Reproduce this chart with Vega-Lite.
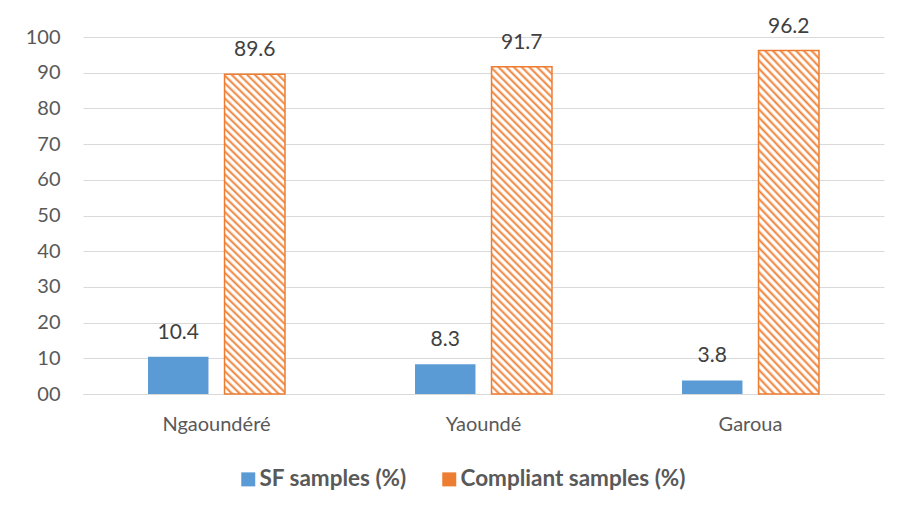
{
  "$schema": "https://vega.github.io/schema/vega-lite/v6.json",
  "width": 801,
  "height": 357,
  "autosize": {"type": "none"},
  "padding": {"left": 83, "top": 37, "right": 21, "bottom": 120},
  "background": "white",
  "config": {"view": {"stroke": null}, "font": "Lato"},
  "data": {
    "values": [
      {"city": "Ngaoundéré", "series": "SF samples (%)", "value": 10.4},
      {"city": "Ngaoundéré", "series": "Compliant samples (%)", "value": 89.6},
      {"city": "Yaoundé", "series": "SF samples (%)", "value": 8.3},
      {"city": "Yaoundé", "series": "Compliant samples (%)", "value": 91.7},
      {"city": "Garoua", "series": "SF samples (%)", "value": 3.8},
      {"city": "Garoua", "series": "Compliant samples (%)", "value": 96.2}
    ]
  },
  "encoding": {
    "x": {
      "field": "city",
      "type": "nominal",
      "sort": ["Ngaoundéré", "Yaoundé", "Garoua"],
      "scale": {"paddingInner": 0.487, "paddingOuter": 0.2435},
      "axis": {
        "title": null,
        "labelAngle": 0,
        "labelFontSize": 20,
        "labelColor": "#595959",
        "labelPadding": 20,
        "ticks": false,
        "domainColor": "#D9D9D9",
        "grid": false
      }
    },
    "xOffset": {
      "field": "series",
      "type": "nominal",
      "sort": ["SF samples (%)", "Compliant samples (%)"],
      "scale": {"paddingInner": 0.21}
    },
    "y": {
      "field": "value",
      "type": "quantitative",
      "scale": {"domain": [0, 100]},
      "axis": {
        "title": null,
        "values": [0, 10, 20, 30, 40, 50, 60, 70, 80, 90, 100],
        "format": "02d",
        "labelFontSize": 20,
        "labelColor": "#595959",
        "labelPadding": 23,
        "ticks": false,
        "domain": false,
        "gridColor": "#D9D9D9"
      }
    }
  },
  "layer": [
    {
      "mark": {"type": "bar", "strokeWidth": 1.5},
      "encoding": {
        "color": {
          "field": "series",
          "type": "nominal",
          "scale": {"domain": ["SF samples (%)", "Compliant samples (%)"], "range": ["#5B9BD5", "#ED7D31"]},
          "condition": {
            "test": "datum.series === 'Compliant samples (%)'",
            "value": {
              "gradient": "linear",
              "x1": 0, "y1": 1, "x2": 0.2122, "y2": -0.1459,
              "stops": [
                {"offset":0,"color":"#ED7D31"},{"offset":0.008,"color":"#fff"},{"offset":0.014,"color":"#fff"},
                {"offset":0.02,"color":"#ED7D31"},{"offset":0.028,"color":"#fff"},{"offset":0.034,"color":"#fff"},
                {"offset":0.04,"color":"#ED7D31"},{"offset":0.048,"color":"#fff"},{"offset":0.054,"color":"#fff"},
                {"offset":0.06,"color":"#ED7D31"},{"offset":0.068,"color":"#fff"},{"offset":0.074,"color":"#fff"},
                {"offset":0.08,"color":"#ED7D31"},{"offset":0.088,"color":"#fff"},{"offset":0.094,"color":"#fff"},
                {"offset":0.1,"color":"#ED7D31"},{"offset":0.108,"color":"#fff"},{"offset":0.114,"color":"#fff"},
                {"offset":0.12,"color":"#ED7D31"},{"offset":0.128,"color":"#fff"},{"offset":0.134,"color":"#fff"},
                {"offset":0.14,"color":"#ED7D31"},{"offset":0.148,"color":"#fff"},{"offset":0.154,"color":"#fff"},
                {"offset":0.16,"color":"#ED7D31"},{"offset":0.168,"color":"#fff"},{"offset":0.174,"color":"#fff"},
                {"offset":0.18,"color":"#ED7D31"},{"offset":0.188,"color":"#fff"},{"offset":0.194,"color":"#fff"},
                {"offset":0.2,"color":"#ED7D31"},{"offset":0.208,"color":"#fff"},{"offset":0.214,"color":"#fff"},
                {"offset":0.22,"color":"#ED7D31"},{"offset":0.228,"color":"#fff"},{"offset":0.234,"color":"#fff"},
                {"offset":0.24,"color":"#ED7D31"},{"offset":0.248,"color":"#fff"},{"offset":0.254,"color":"#fff"},
                {"offset":0.26,"color":"#ED7D31"},{"offset":0.268,"color":"#fff"},{"offset":0.274,"color":"#fff"},
                {"offset":0.28,"color":"#ED7D31"},{"offset":0.288,"color":"#fff"},{"offset":0.294,"color":"#fff"},
                {"offset":0.3,"color":"#ED7D31"},{"offset":0.308,"color":"#fff"},{"offset":0.314,"color":"#fff"},
                {"offset":0.32,"color":"#ED7D31"},{"offset":0.328,"color":"#fff"},{"offset":0.334,"color":"#fff"},
                {"offset":0.34,"color":"#ED7D31"},{"offset":0.348,"color":"#fff"},{"offset":0.354,"color":"#fff"},
                {"offset":0.36,"color":"#ED7D31"},{"offset":0.368,"color":"#fff"},{"offset":0.374,"color":"#fff"},
                {"offset":0.38,"color":"#ED7D31"},{"offset":0.388,"color":"#fff"},{"offset":0.394,"color":"#fff"},
                {"offset":0.4,"color":"#ED7D31"},{"offset":0.408,"color":"#fff"},{"offset":0.414,"color":"#fff"},
                {"offset":0.42,"color":"#ED7D31"},{"offset":0.428,"color":"#fff"},{"offset":0.434,"color":"#fff"},
                {"offset":0.44,"color":"#ED7D31"},{"offset":0.448,"color":"#fff"},{"offset":0.454,"color":"#fff"},
                {"offset":0.46,"color":"#ED7D31"},{"offset":0.468,"color":"#fff"},{"offset":0.474,"color":"#fff"},
                {"offset":0.48,"color":"#ED7D31"},{"offset":0.488,"color":"#fff"},{"offset":0.494,"color":"#fff"},
                {"offset":0.5,"color":"#ED7D31"},{"offset":0.508,"color":"#fff"},{"offset":0.514,"color":"#fff"},
                {"offset":0.52,"color":"#ED7D31"},{"offset":0.528,"color":"#fff"},{"offset":0.534,"color":"#fff"},
                {"offset":0.54,"color":"#ED7D31"},{"offset":0.548,"color":"#fff"},{"offset":0.554,"color":"#fff"},
                {"offset":0.56,"color":"#ED7D31"},{"offset":0.568,"color":"#fff"},{"offset":0.574,"color":"#fff"},
                {"offset":0.58,"color":"#ED7D31"},{"offset":0.588,"color":"#fff"},{"offset":0.594,"color":"#fff"},
                {"offset":0.6,"color":"#ED7D31"},{"offset":0.608,"color":"#fff"},{"offset":0.614,"color":"#fff"},
                {"offset":0.62,"color":"#ED7D31"},{"offset":0.628,"color":"#fff"},{"offset":0.634,"color":"#fff"},
                {"offset":0.64,"color":"#ED7D31"},{"offset":0.648,"color":"#fff"},{"offset":0.654,"color":"#fff"},
                {"offset":0.66,"color":"#ED7D31"},{"offset":0.668,"color":"#fff"},{"offset":0.674,"color":"#fff"},
                {"offset":0.68,"color":"#ED7D31"},{"offset":0.688,"color":"#fff"},{"offset":0.694,"color":"#fff"},
                {"offset":0.7,"color":"#ED7D31"},{"offset":0.708,"color":"#fff"},{"offset":0.714,"color":"#fff"},
                {"offset":0.72,"color":"#ED7D31"},{"offset":0.728,"color":"#fff"},{"offset":0.734,"color":"#fff"},
                {"offset":0.74,"color":"#ED7D31"},{"offset":0.748,"color":"#fff"},{"offset":0.754,"color":"#fff"},
                {"offset":0.76,"color":"#ED7D31"},{"offset":0.768,"color":"#fff"},{"offset":0.774,"color":"#fff"},
                {"offset":0.78,"color":"#ED7D31"},{"offset":0.788,"color":"#fff"},{"offset":0.794,"color":"#fff"},
                {"offset":0.8,"color":"#ED7D31"},{"offset":0.808,"color":"#fff"},{"offset":0.814,"color":"#fff"},
                {"offset":0.82,"color":"#ED7D31"},{"offset":0.828,"color":"#fff"},{"offset":0.834,"color":"#fff"},
                {"offset":0.84,"color":"#ED7D31"},{"offset":0.848,"color":"#fff"},{"offset":0.854,"color":"#fff"},
                {"offset":0.86,"color":"#ED7D31"},{"offset":0.868,"color":"#fff"},{"offset":0.874,"color":"#fff"},
                {"offset":0.88,"color":"#ED7D31"},{"offset":0.888,"color":"#fff"},{"offset":0.894,"color":"#fff"},
                {"offset":0.9,"color":"#ED7D31"},{"offset":0.908,"color":"#fff"},{"offset":0.914,"color":"#fff"},
                {"offset":0.92,"color":"#ED7D31"},{"offset":0.928,"color":"#fff"},{"offset":0.934,"color":"#fff"},
                {"offset":0.94,"color":"#ED7D31"},{"offset":0.948,"color":"#fff"},{"offset":0.954,"color":"#fff"},
                {"offset":0.96,"color":"#ED7D31"},{"offset":0.968,"color":"#fff"},{"offset":0.974,"color":"#fff"},
                {"offset":0.98,"color":"#ED7D31"},{"offset":0.988,"color":"#fff"},{"offset":0.994,"color":"#fff"},
                {"offset":1,"color":"#ED7D31"}
              ]
            }
          },
          "legend": {
            "title": null,
            "orient": "none",
            "legendX": 154,
            "legendY": 431,
            "direction": "horizontal",
            "symbolType": "square",
            "symbolSize": 196,
            "labelFontSize": 22.5,
            "labelFontWeight": "bold",
            "labelColor": "#595959",
            "labelLimit": 500,
            "labelOffset": 0,
            "columnPadding": 31,
            "padding": 0
          }
        },
        "stroke": {
          "condition": {"test": "datum.series === 'Compliant samples (%)'", "value": "#ED7D31"},
          "value": null
        }
      }
    },
    {
      "mark": {"type": "text", "baseline": "alphabetic", "dy": -18, "fontSize": 21, "color": "#404040"},
      "encoding": {"text": {"field": "value", "type": "quantitative", "format": ".1f"}}
    }
  ]
}
